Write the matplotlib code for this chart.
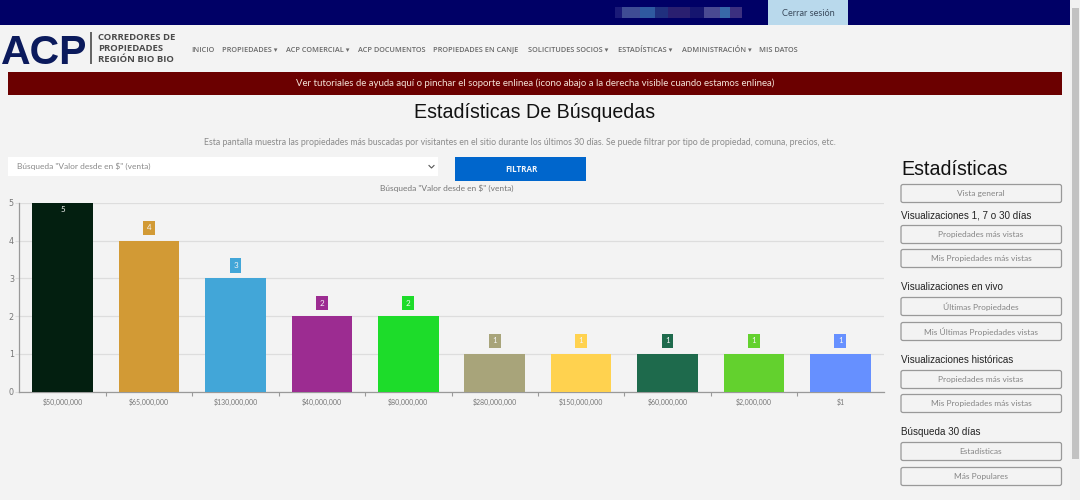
import matplotlib
matplotlib.use('Agg')
import matplotlib.pyplot as plt
from matplotlib.patches import Rectangle, FancyBboxPatch
import numpy as np

W, H = 1080, 500
BODY_FONT = "Lato"
HEAD_FONT = "Liberation Sans"

precios = ["$50,000,000", "$65,000,000", "$130,000,000", "$40,000,000", "$80,000,000",
           "$280,000,000", "$150,000,000", "$60,000,000", "$2,000,000", "$1"]
busquedas = [5, 4, 3, 2, 2, 1, 1, 1, 1, 1]
colores = ["#031f10", "#d29a35", "#42a6d8", "#9c2c91", "#1ddc2a",
           "#a8a47a", "#ffd24f", "#1e6a4c", "#63d12e", "#6690ff"]

menu = ["INICIO", "PROPIEDADES ▾", "ACP COMERCIAL ▾", "ACP DOCUMENTOS", "PROPIEDADES EN CANJE",
        "SOLICITUDES SOCIOS ▾", "ESTADÍSTICAS ▾", "ADMINISTRACIÓN ▾", "MIS DATOS"]
menu_x = [191, 222, 286, 358, 433, 528, 618, 682, 759]

secciones = ["Visualizaciones 1, 7 o 30 días", "Visualizaciones en vivo",
             "Visualizaciones históricas", "Búsqueda 30 días"]
secciones_y = [215, 287, 360, 432]
botones = ["Vista general", "Propiedades más vistas", "Mis Propiedades más vistas",
           "Últimas Propiedades", "Mis Últimas Propiedades vistas",
           "Propiedades más vistas", "Mis Propiedades más vistas",
           "Estadísticas", "Más Populares"]
botones_y = [184, 225, 249, 297, 322, 370, 394, 442, 467]


def px(size):
    return size * 0.72


fig = plt.figure(figsize=(W / 100, H / 100), dpi=100, facecolor="#f3f3f3")

# page layer, in screen pixels
page = fig.add_axes([0, 0, 1, 1])
page.set_xlim(0, W)
page.set_ylim(H, 0)
page.axis("off")


def rect(x0, y0, x1, y1, color, **kw):
    page.add_patch(Rectangle((x0, y0), x1 - x0, y1 - y0, facecolor=color, edgecolor="none", **kw))


def label(x, y, s, size, color="#777777", ha="left", va="center", font=BODY_FONT, **kw):
    page.text(x, y, s, fontsize=px(size), color=color, ha=ha, va=va, family=[font, "DejaVu Sans"], **kw)


# top bar
rect(0, 0, 1070, 24.5, "#000066")
rect(768, 0, 847.5, 24.5, "#b9d9ec")
label(808, 13, "Cerrar sesión", 9.2, color="#3a4a5c", ha="center")

# blurred user name
for x0, x1, c in [(615, 622, "#1a1a78"), (622, 640, "#3f4c94"), (640, 655, "#2f5aa0"),
                  (655, 668, "#20307e"), (668, 690, "#2a1f70"), (690, 704, "#15156f"),
                  (704, 720, "#4a4a92"), (720, 730, "#3868a8"), (730, 742, "#3c3080")]:
    rect(x0, 6.5, x1, 18, c)

# logo
label(1, 64, "ACP", 41, color="#0b1a5c", va="baseline", font=HEAD_FONT, fontweight="bold")
rect(90, 32, 91.5, 64, "#666666")
for y, s in zip([37, 48.5, 59], ["CORREDORES DE", "PROPIEDADES", "REGIÓN BIO BIO"]):
    label(98.5, y, s, 9.5, color="#4a4a4a", font="Open Sans", fontweight="bold")

# menu
for x, s in zip(menu_x, menu):
    label(x, 51.5, s, 7.4, color="#6a6a6a", va="baseline", font="Open Sans", fontweight="semibold")

# banner
rect(8, 72, 1062, 94.5, "#6b0000")
label(535, 83.5, "Ver tutoriales de ayuda aquí o pinchar el soporte enlinea (icono abajo a la derecha visible cuando estamos enlinea)",
      9.7, color="#f4e4d8", ha="center")

# heading
label(535, 112.5, "Estadísticas De Búsquedas", 19.7, color="#111111", ha="center", font=HEAD_FONT)
label(519.5, 142.5, "Esta pantalla muestra las propiedades más buscadas por visitantes en el sitio durante los últimos 30 días. Se puede filtrar por tipo de propiedad, comuna, precios, etc.",
      8.77, color="#8a8a8a", ha="center")

# filter row
rect(8, 157, 438, 176, "#ffffff")
label(17, 166.5, "Búsqueda \"Valor desde en $\" (venta)", 8.35, color="#8a8a8a")
page.plot([429, 431.5, 434], [165.5, 168, 165.5], color="#555555", lw=0.8)
rect(455, 157, 586, 181, "#0066cc")
label(521, 169.5, "FILTRAR", 8, color="#f2f6fb", ha="center", font="Open Sans", fontweight="bold")
label(446.5, 188, "Búsqueda \"Valor desde en $\" (venta)", 8.35, color="#777777", ha="center")

# side panel
label(901, 169.5, "Estadísticas", 19.7, color="#111111", font=HEAD_FONT)
for y, s in zip(secciones_y, secciones):
    label(901, y, s, 9.9, color="#222222", font=HEAD_FONT)
for y, s in zip(botones_y, botones):
    page.add_patch(FancyBboxPatch((901, y + 0.5), 160.5, 18, boxstyle="round,pad=0,rounding_size=2",
                                  facecolor="#f3f3f3", edgecolor="#999999", linewidth=0.9))
    label(981, y + 9.5, s, 8.4, color="#858585", ha="center")

# scrollbar
rect(1070, 0, 1080, 500, "#f1f1f1")
rect(1071.5, 8, 1079, 459, "#c2c2c2")

# chart
ax = fig.add_axes([19.5 / W, 1 - 391.5 / H, 864 / W, 188.5 / H], facecolor="none")
x = np.arange(len(precios))
ax.bar(x, busquedas, width=0.7, color=colores, zorder=3)
ax.set_xlim(-0.5, len(precios) - 0.5)
ax.set_ylim(0, 5)

ax.set_yticks(range(6))
ax.tick_params(axis="y", length=3, width=0.8, color="#dddddd", labelsize=px(8), labelcolor="#777777", pad=1)
ax.set_xticks(x)
ax.set_xticklabels(precios, family=BODY_FONT)
ax.tick_params(axis="x", which="major", length=0, labelsize=px(7), labelcolor="#777777", pad=5)
ax.set_xticks(x[:-1] + 0.5, minor=True)
ax.tick_params(axis="x", which="minor", length=3, width=0.8, color="#999999")
ax.grid(True, axis="y", color="#dddddd", linewidth=0.9, zorder=0)
ax.set_axisbelow(True)

for side in ["top", "right"]:
    ax.spines[side].set_visible(False)
for side in ["left", "bottom"]:
    ax.spines[side].set_color("#999999")
    ax.spines[side].set_linewidth(0.9)

# value badges, the tallest bar has its value inside
for i, v in enumerate(busquedas):
    if v == max(busquedas):
        ax.annotate(str(v), xy=(i, v), xytext=(0, px(-6)), textcoords="offset points", ha="center", va="center",
                    fontsize=px(8), color="#f4f4f4", family=BODY_FONT, zorder=5)
    else:
        ax.annotate(str(v), xy=(i, v), xytext=(0, px(13)), textcoords="offset points", ha="center", va="center",
                    fontsize=px(8), color="#f4f4f4", family=BODY_FONT, zorder=5,
                    bbox=dict(boxstyle="square,pad=0.45", facecolor=colores[i], edgecolor="none"))

fig.savefig("out.png", dpi=100, facecolor=fig.get_facecolor())
plt.close(fig)
